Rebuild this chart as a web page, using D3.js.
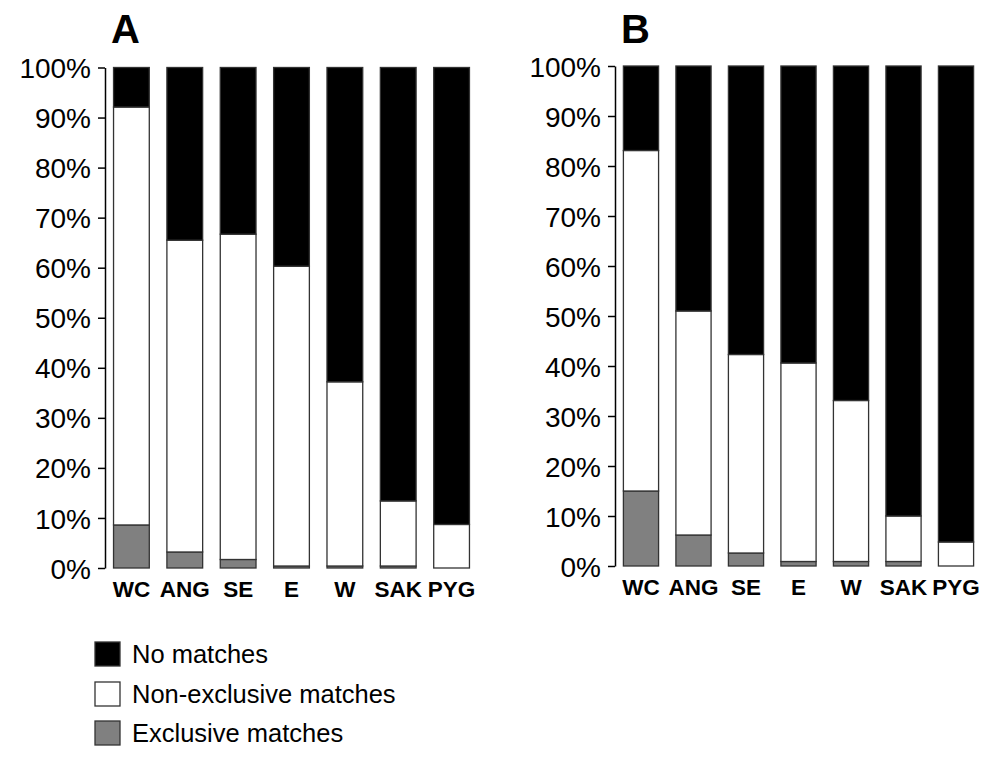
<!DOCTYPE html>
<html><head><meta charset="utf-8">
<script src="https://cdn.jsdelivr.net/npm/d3@7"></script>
<style>body{margin:0;background:#fff}svg{display:block}text{font-family:"Liberation Sans",Arial,sans-serif}</style>
</head><body>
<script>
const categories = ["WC","ANG","SE","E","W","SAK","PYG"];
const yTicks = [0,10,20,30,40,50,60,70,80,90,100];
// Panel A (%)
const exclusiveA    = [8.6, 3.2, 1.7, 0.4, 0.4, 0.4, 0];
const nonExclusiveA = [83.5, 62.3, 65.0, 59.9, 36.8, 13.0, 8.7];
const noMatchA      = [7.9, 34.5, 33.3, 39.7, 62.8, 86.6, 91.3];
// Panel B (%)
const exclusiveB    = [15.0, 6.2, 2.6, 0.9, 0.9, 0.9, 0];
const nonExclusiveB = [68.1, 44.8, 39.7, 39.7, 32.2, 9.1, 4.8];
const noMatchB      = [16.9, 49.0, 57.7, 59.4, 66.9, 90.0, 95.2];
const seriesNames = ["Exclusive matches","Non-exclusive matches","No matches"];
const seriesColors = ["#808080","#ffffff","#000000"];

const W = 1004, H = 763;
const svg = d3.select("body").append("svg").attr("width", W).attr("height", H);

function panel(label, axisX, yTop, yBot, xEnd, excl, nonex, none) {
  const g = svg.append("g");
  const y = d3.scaleLinear().domain([0,100]).range([yBot, yTop]);
  const x = d3.scaleBand().domain(categories).range([axisX, xEnd]).paddingInner(0.33).paddingOuter(0.16);
  const rows = categories.map((c,i)=>({cat:c, "Exclusive matches":excl[i], "Non-exclusive matches":nonex[i], "No matches":none[i]}));
  const stacked = d3.stack().keys(seriesNames)(rows);
  stacked.forEach((s, si) => {
    g.selectAll(null).data(s).enter().append("rect")
      .attr("x", d => x(d.data.cat))
      .attr("width", x.bandwidth())
      .attr("y", d => y(d[1]))
      .attr("height", d => Math.max(0, y(d[0]) - y(d[1])))
      .attr("fill", seriesColors[si])
      .attr("stroke", "#333").attr("stroke-width", 1.3);
  });
  const ax = g.append("g").attr("transform", `translate(${axisX},0)`)
    .call(d3.axisLeft(y).tickValues(yTicks).tickFormat(d => d + "%").tickSize(7).tickSizeOuter(0).tickPadding(7));
  ax.select(".domain").attr("stroke", "#000").attr("stroke-width", 1.5);
  ax.selectAll(".tick line").attr("stroke", "#000").attr("stroke-width", 1.5);
  ax.selectAll("text").attr("font-size", 28).attr("fill", "#000").attr("font-family", "Liberation Sans, Arial, sans-serif").attr("dy", "0.36em");
  const xa = g.append("g").attr("transform", `translate(0,${yBot})`)
    .call(d3.axisBottom(x).tickSize(0).tickPadding(13));
  xa.select(".domain").remove();
  xa.selectAll("text").attr("font-size", 22.5).attr("font-weight", "bold").attr("fill", "#000")
    .attr("font-family", "Liberation Sans, Arial, sans-serif").attr("dy", "0.71em");
  g.append("text").attr("x", x(categories[0]) + 12).attr("y", 43)
    .attr("text-anchor", "middle").attr("font-size", 40).attr("font-weight", "bold").text(label);
}

panel("A", 105, 67.5, 568, 478, exclusiveA, nonExclusiveA, noMatchA);
panel("B", 615, 66, 566, 982, exclusiveB, nonExclusiveB, noMatchB);

// Legend
const legendOrder = [2,1,0];
const lg = svg.append("g");
const legendY = [654, 694, 733];
legendOrder.forEach((si, i) => {
  lg.append("rect").attr("x", 95).attr("y", legendY[i] - 12).attr("width", 25).attr("height", 24)
    .attr("fill", seriesColors[si]).attr("stroke", "#333").attr("stroke-width", 1.3);
  lg.append("text").attr("x", 132).attr("y", legendY[i] + 9).attr("font-size", 25.5).attr("fill", "#000").text(seriesNames[si]);
});
</script>
</body></html>
